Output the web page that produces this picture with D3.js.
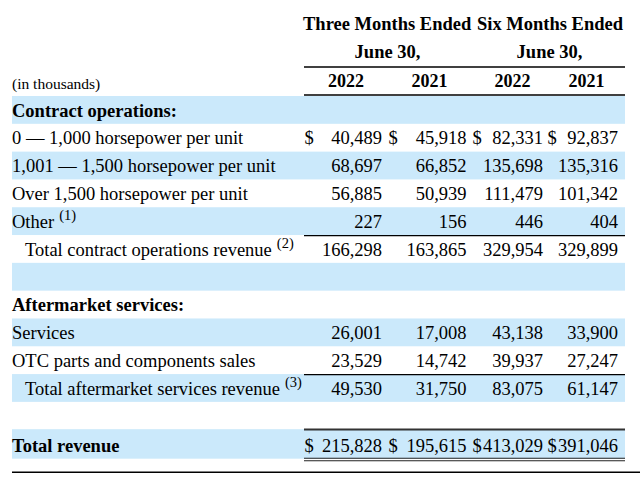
<!DOCTYPE html>
<html><head><meta charset="utf-8">
<script src="https://cdn.jsdelivr.net/npm/d3@7"></script>
<style>
html,body{margin:0;padding:0;background:#fff;}
svg{display:block;}
text{font-family:"Liberation Serif","Times New Roman",serif;fill:#000;}
</style></head>
<body><svg id="c" width="640" height="487"></svg>
<script>
// ---- data ----
const periodHeaders = ["Three Months Ended", "Six Months Ended"];
const periodSub = ["June 30,", "June 30,"];
const yearLabels = ["2022", "2021", "2022", "2021"];
const unitsNote = "(in thousands)";
const rowLabels = [
  "Contract operations:",
  "0 — 1,000 horsepower per unit",
  "1,001 — 1,500 horsepower per unit",
  "Over 1,500 horsepower per unit",
  "Other",
  "Total contract operations revenue",
  "",
  "Aftermarket services:",
  "Services",
  "OTC parts and components sales",
  "Total aftermarket services revenue",
  "",
  "Total revenue"
];
const footnotes = ["", "", "", "", "(1)", "(2)", "", "", "", "", "(3)", "", ""];
const rowKind = ["head","item","item","item","item","total","blank","head","item","item","total","blank","grand"];
const threeMonths2022 = [null, 40489, 68697, 56885, 227, 166298, null, null, 26001, 23529, 49530, null, 215828];
const threeMonths2021 = [null, 45918, 66852, 50939, 156, 163865, null, null, 17008, 14742, 31750, null, 195615];
const sixMonths2022   = [null, 82331, 135698, 111479, 446, 329954, null, null, 43138, 39937, 83075, null, 413029];
const sixMonths2021   = [null, 92837, 135316, 101342, 404, 329899, null, null, 33900, 27247, 61147, null, 391046];
const dollarRows = [1, 12];

// ---- layout ----
const svg = d3.select("#c");
const BLUE = "#cbe9fb";
const fmt = d3.format(",");
const series = [threeMonths2022, threeMonths2021, sixMonths2022, sixMonths2021];

const y = d3.scaleBand().domain(d3.range(rowLabels.length)).range([96, 457.5]).paddingInner(0);
const colRight = d3.scaleOrdinal().domain([0,1,2,3]).range([382, 466.5, 543, 618]);
const colDollar = d3.scaleOrdinal().domain([0,1,2,3]).range([304.5, 388.5, 472.5, 547.5]);
const colCenter = d3.scaleOrdinal().domain([0,1,2,3]).range([346, 429.5, 512.5, 586.5]);
const groupCenter = d3.scaleOrdinal().domain([0,1]).range([387.5, 549.5]);
const left = 12, right = 625, tableLeftNum = 304;
const baseOff = i => rowKind[i] === "grand" ? 22.5 : 20.5;

// blue bands
const blueRows = d3.range(rowLabels.length).filter(i => i % 2 === 0);
svg.selectAll("rect.band").data(blueRows).join("rect")
  .attr("x", left).attr("width", right - left)
  .attr("y", i => rowKind[i] === "grand" ? y(i) - 0.5 : y(i))
  .attr("height", i => rowKind[i] === "grand" ? 29.5 : y.bandwidth())
  .attr("fill", BLUE);

// headers
svg.selectAll("text.ph").data(periodHeaders).join("text")
  .attr("x", (d,i) => i === 0 ? 303 : 477).attr("y", 30)
  .attr("font-size", 18.5).attr("font-weight", "bold").text(d => d);
svg.selectAll("text.ps").data(periodSub).join("text")
  .attr("x", (d,i) => groupCenter(i)).attr("y", 58).attr("text-anchor", "middle")
  .attr("font-size", 18.5).attr("font-weight", "bold").text(d => d);
svg.selectAll("text.yr").data(yearLabels).join("text")
  .attr("x", (d,i) => colCenter(i)).attr("y", 87).attr("text-anchor", "middle")
  .attr("font-size", 18).attr("font-weight", "bold").text(d => d);
svg.append("text").attr("x", left).attr("y", 89).attr("font-size", 15.5).text(unitsNote);

// header rules
[67, 95].forEach(yy => svg.append("line").attr("x1", tableLeftNum).attr("x2", right)
  .attr("y1", yy).attr("y2", yy).attr("stroke", "#000").attr("stroke-width", 1.5));

// row labels
const labels = svg.selectAll("text.lab").data(rowLabels.map((d,i)=>({d,i}))).join("text")
  .attr("x", o => rowKind[o.i] === "total" ? 25 : left)
  .attr("y", o => y(o.i) + baseOff(o.i))
  .attr("font-size", 18.5)
  .attr("font-weight", o => (rowKind[o.i] === "head" || rowKind[o.i] === "grand") ? "bold" : "normal");
labels.append("tspan").text(o => o.d);
labels.filter(o => footnotes[o.i]).append("tspan")
  .attr("dx", 5).attr("dy", -8).attr("font-size", 14.5).text(o => footnotes[o.i]);

// values
series.forEach((vals, c) => {
  svg.selectAll("text.v" + c).data(vals.map((v,i)=>({v,i})).filter(o => o.v !== null)).join("text")
    .attr("x", colRight(c))
    .attr("y", o => y(o.i) + baseOff(o.i))
    .attr("text-anchor", "end").attr("font-size", 18.5).text(o => fmt(o.v));
  svg.selectAll("text.d" + c).data(dollarRows).join("text")
    .attr("x", colDollar(c))
    .attr("y", i => y(i) + baseOff(i))
    .attr("font-size", 18.5).text("$");
});

// total rules
rowLabels.forEach((d, i) => {
  if (rowKind[i] === "total") {
    svg.append("line").attr("x1", tableLeftNum).attr("x2", right)
      .attr("y1", y(i) + 0.5).attr("y2", y(i) + 0.5).attr("stroke", "#000").attr("stroke-width", 1.3);
  }
  if (rowKind[i] === "grand") {
    svg.append("line").attr("x1", tableLeftNum).attr("x2", right)
      .attr("y1", y(i) - 0.3).attr("y2", y(i) - 0.3).attr("stroke", "#333").attr("stroke-width", 2);
    [y(i) + 28.5, y(i) + 31].forEach(yy =>
      svg.append("line").attr("x1", tableLeftNum).attr("x2", right)
        .attr("y1", yy).attr("y2", yy).attr("stroke", "#222").attr("stroke-width", 1.1));
  }
});

// bottom rule
svg.append("line").attr("x1", left).attr("x2", 640).attr("y1", 472.3).attr("y2", 472.3)
  .attr("stroke", "#000").attr("stroke-width", 1.6);
</script></body></html>
